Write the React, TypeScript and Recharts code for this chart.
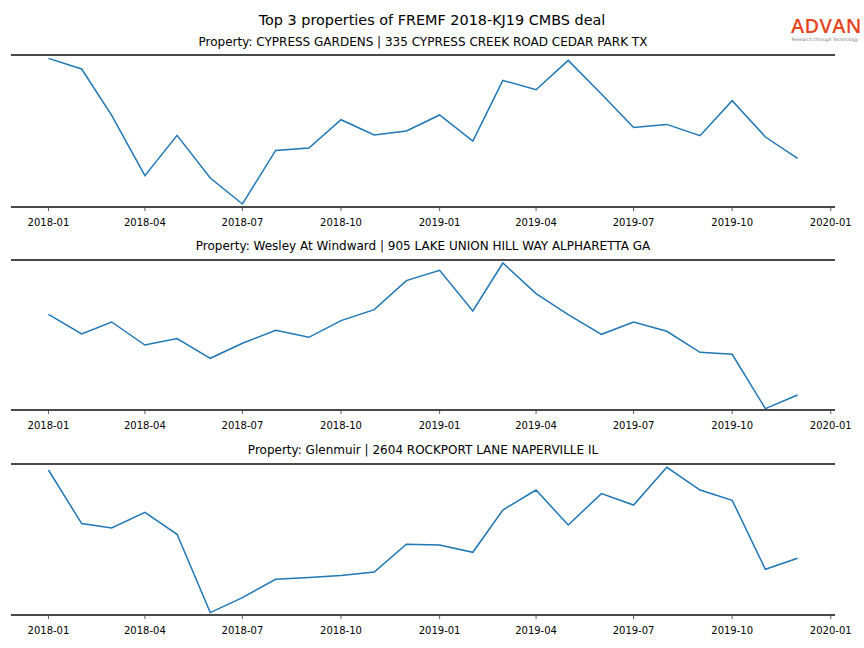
import { LineChart, Line, XAxis, YAxis, ReferenceLine } from 'recharts';

// monthly observations, 2018-01 .. 2019-12
const months = [
  '2018-01', '2018-02', '2018-03', '2018-04', '2018-05', '2018-06',
  '2018-07', '2018-08', '2018-09', '2018-10', '2018-11', '2018-12',
  '2019-01', '2019-02', '2019-03', '2019-04', '2019-05', '2019-06',
  '2019-07', '2019-08', '2019-09', '2019-10', '2019-11', '2019-12',
];

const cypressGardens = [
  148.6, 138, 91.6, 31.3, 71.6, 29, 3, 56.6, 59, 87.3, 72, 76,
  92, 66, 126.6, 117.3, 146.6, 113, 79.6, 82.6, 71.3, 106.3, 70, 48.6,
];
const wesleyAtWindward = [
  95.7, 76, 88, 65, 71.4, 51.7, 66.7, 79.7, 72.7, 89.4, 100.4, 129.4,
  139.7, 99, 147, 116.4, 95.4, 75.7, 88, 78.7, 57.7, 55.7, 1.4, 15,
];
const glenmuir = [
  145, 91.4, 87, 102.7, 80.7, 2.4, 17.4, 35.7, 37.4, 39.4, 43, 70.7,
  70, 62.7, 105, 125, 90, 121.4, 110, 147.7, 125, 114.7, 45.7, 56.7,
];

const tickMonths = [
  '2018-01', '2018-04', '2018-07', '2018-10', '2019-01',
  '2019-04', '2019-07', '2019-10', '2020-01',
];

const titles = [
  'Property: CYPRESS GARDENS | 335 CYPRESS CREEK ROAD CEDAR PARK TX',
  'Property: Wesley At Windward | 905 LAKE UNION HILL WAY ALPHARETTA GA',
  'Property: Glenmuir | 2604 ROCKPORT LANE NAPERVILLE IL',
];

const toTime = (m: string) => {
  const [y, mo] = m.split('-').map(Number);
  return Date.UTC(y, mo - 1, 1);
};

const fmt = (t: number) => {
  const d = new Date(t);
  return `${d.getUTCFullYear()}-${String(d.getUTCMonth() + 1).padStart(2, '0')}`;
};

const times = months.map(toTime);
const span = times[times.length - 1] - times[0];
const xDomain = [times[0] - 0.05 * span, times[times.length - 1] + 0.05 * span];
const xTicks = tickMonths.map(toTime);

const FONT = '"DejaVu Sans", sans-serif';
const SPINE = '#4a4a4a';

const panels = [
  { values: cypressGardens, top: 30, plotH: 152, titleY: 42 },
  { values: wesleyAtWindward, top: 235, plotH: 150, titleY: 246 },
  { values: glenmuir, top: 439, plotH: 151, titleY: 450 },
];

function Panel({ values, top, plotH }: { values: number[]; top: number; plotH: number }) {
  const data = times.map((t, i) => ({ t, v: values[i] }));
  return (
    <div style={{ position: 'absolute', left: 0, top }}>
      <LineChart width={864} height={plotH + 50} data={data}
        margin={{ top: 25, right: 29, left: 11, bottom: 0 }}>
        <XAxis
          dataKey="t" type="number" domain={xDomain} ticks={xTicks} interval={0}
          tickFormatter={fmt} allowDataOverflow height={25}
          axisLine={{ stroke: SPINE, strokeWidth: 1.8 }}
          tickLine={{ stroke: '#333', strokeWidth: 0.8 }} tickSize={4} tickMargin={8}
          tick={{ fontSize: 10, fill: '#000', fontFamily: FONT }}
        />
        <YAxis hide domain={[0, plotH]} allowDataOverflow />
        <ReferenceLine y={plotH} stroke={SPINE} strokeWidth={1.8} />
        <Line type="linear" dataKey="v" stroke="#1f77b4" strokeWidth={1.5}
          dot={false} isAnimationActive={false} />
      </LineChart>
    </div>
  );
}

export default function App() {
  return (
    <div style={{ position: 'absolute', left: 0, top: 0, width: 864, height: 648, background: '#fff', fontFamily: FONT }}>
      <div style={{ position: 'absolute', top: 11, left: 0, width: 864, lineHeight: '18px', textAlign: 'center', fontSize: 14.4 }}>
        Top 3 properties of FREMF 2018-KJ19 CMBS deal
      </div>
      {panels.map((p, i) => (
        <div key={'t' + i} style={{ position: 'absolute', top: p.titleY - 8, left: 0, width: 846, lineHeight: '16px', textAlign: 'center', fontSize: 12 }}>
          {titles[i]}
        </div>
      ))}
      {panels.map((p, i) => (
        <Panel key={i} values={p.values} top={p.top} plotH={p.plotH} />
      ))}
      <div style={{ position: 'absolute', top: 16, left: 791, width: 68, textAlign: 'center', color: '#e5461f', fontSize: 20, lineHeight: '20px', fontFamily: '"Open Sans", sans-serif', fontWeight: 600, letterSpacing: 0.3 }}>
        ADVAN
      </div>
      <div style={{ position: 'absolute', top: 37, left: 791, width: 68, textAlign: 'center', color: '#777', fontSize: 4.5, lineHeight: '5px', whiteSpace: 'nowrap' }}>
        Research through Technology
      </div>
    </div>
  );
}
